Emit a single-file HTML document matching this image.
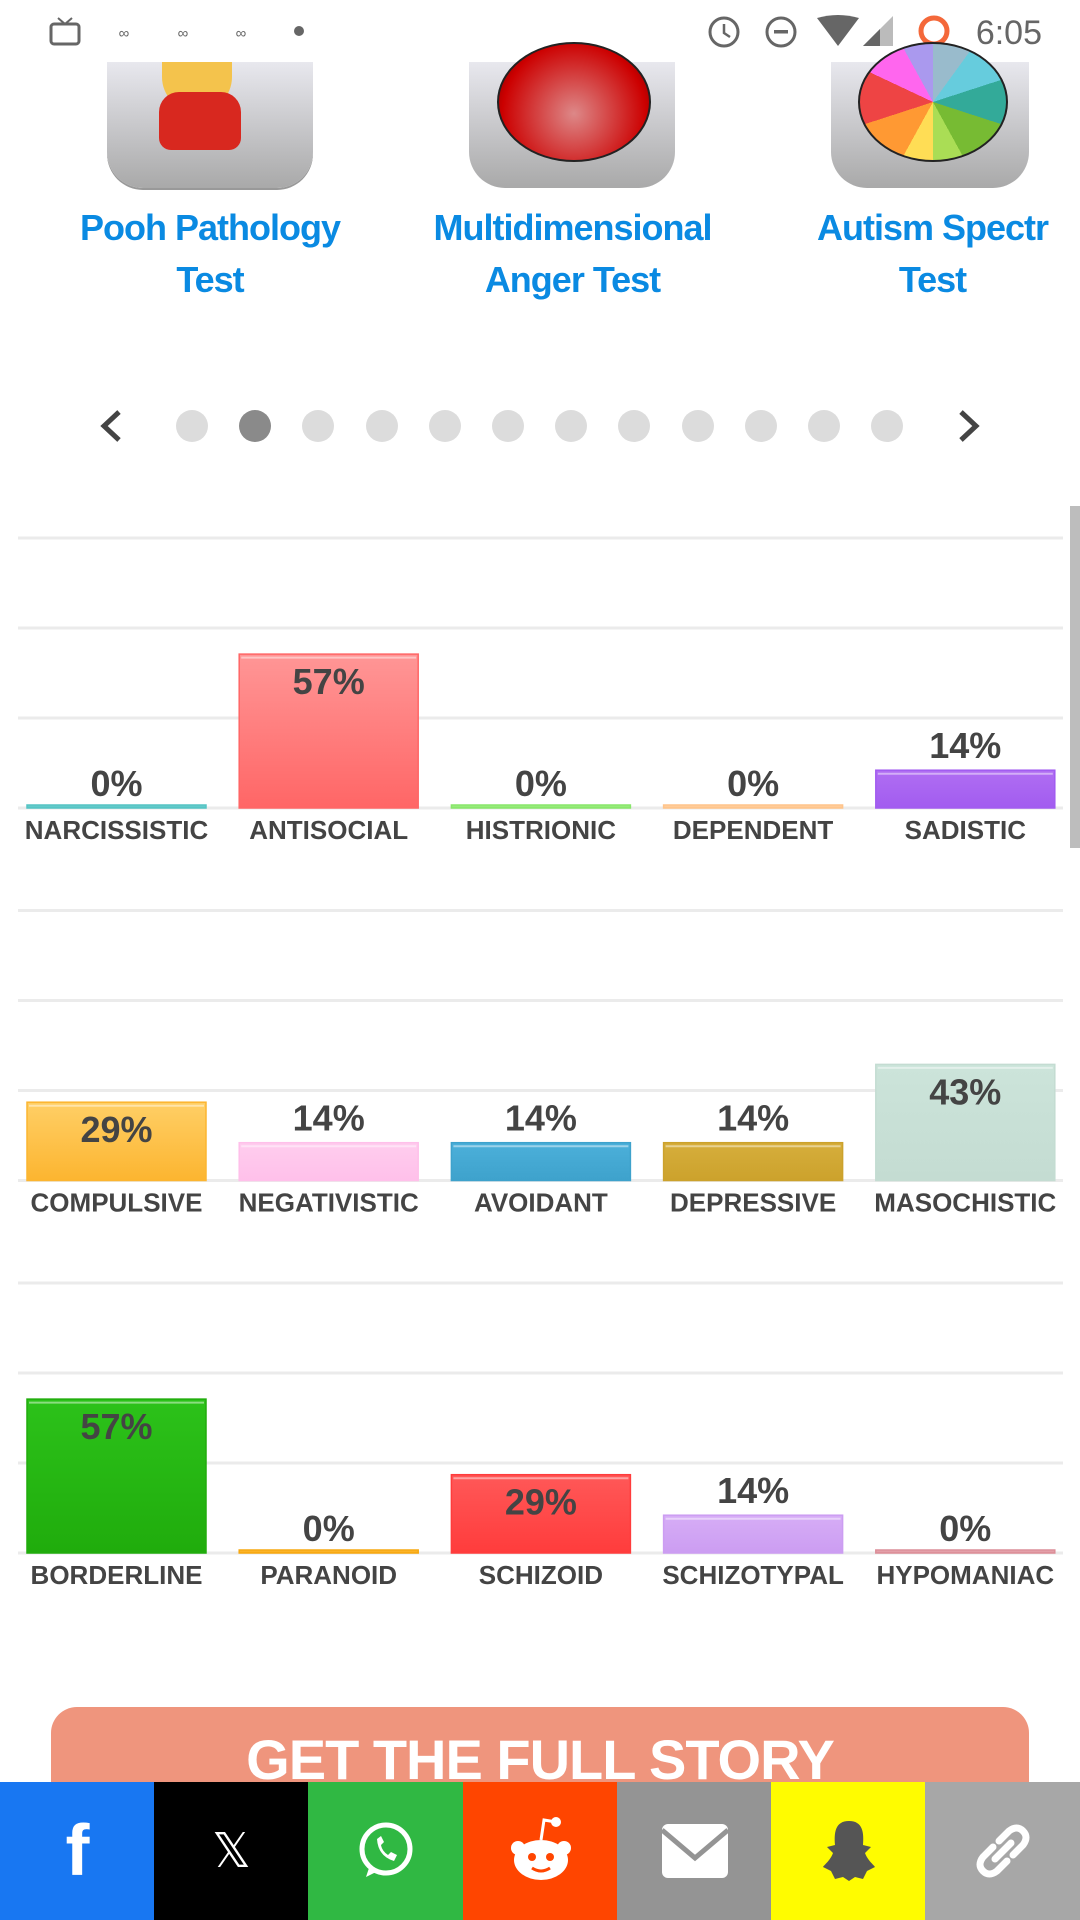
<!DOCTYPE html>
<html><head><meta charset="utf-8">
<style>
html,body{margin:0;padding:0;width:1080px;height:1920px;overflow:hidden;background:#fff;font-family:"Liberation Sans",sans-serif;}
.abs{position:absolute;}
.title{position:absolute;color:#0a8ae2;font-weight:bold;font-size:36px;text-align:center;line-height:52px;letter-spacing:-1px;}
.dot{position:absolute;width:32px;height:32px;border-radius:50%;background:#dcdcdc;top:410px;}
.share{position:absolute;top:1782px;height:138px;width:155px;display:flex;align-items:center;justify-content:center;}
</style></head>
<body>
<div class="abs" style="left:0;top:0;width:1080px;height:62px;background:#fff;">
  <svg width="1080" height="62">
    <rect x="51" y="24" width="28" height="20" rx="3" fill="none" stroke="#666" stroke-width="3"/>
    <path d="M58 18 L65 24 L72 18" stroke="#666" stroke-width="2" fill="none"/>
    <text x="124" y="38" font-size="15" fill="#666" text-anchor="middle">∞</text>
    <text x="183" y="38" font-size="15" fill="#666" text-anchor="middle">∞</text>
    <text x="241" y="38" font-size="15" fill="#666" text-anchor="middle">∞</text>
    <circle cx="299" cy="31" r="5" fill="#666"/>
    <circle cx="724" cy="32" r="14" fill="none" stroke="#666" stroke-width="3"/>
    <path d="M724 24 V33 L730 37" stroke="#666" stroke-width="2.5" fill="none"/>
    <circle cx="781" cy="32" r="14" fill="none" stroke="#666" stroke-width="3"/>
    <rect x="774" y="30" width="14" height="3.5" fill="#666"/>
    <path d="M817 18 Q838 12 859 18 L838 46 Z" fill="#666"/>
    <path d="M863 46 L893 16 V46 Z" fill="#bbb"/><path d="M863 46 L880 29 V46 Z" fill="#666"/>
    <circle cx="934" cy="31" r="13" fill="none" stroke="#f4683a" stroke-width="5"/>
    <text x="1042" y="44" font-size="34" fill="#666" text-anchor="end">6:05</text>
  </svg>
</div>
<div class="abs" style="left:0;top:62px;width:1080px;height:400px;">
  <div class="abs" style="left:107px;top:0;width:206px;height:126px;border-radius:0 0 36px 36px;background:linear-gradient(#e8e8ee,#a9a9a9);box-shadow:0 2px 0 #999;">
    <div class="abs" style="left:55px;top:0;width:70px;height:50px;background:#f4c34c;border-radius:0 0 35px 35px;"></div>
    <div class="abs" style="left:52px;top:30px;width:82px;height:58px;background:#d8281f;border-radius:20px 20px 12px 12px;"></div>
  </div>
  <div class="abs" style="left:469px;top:0;width:206px;height:126px;border-radius:0 0 36px 36px;background:linear-gradient(#e8e8ee,#a9a9a9);">
    <div class="abs" style="left:28px;top:-20px;width:150px;height:116px;border-radius:50%;background:radial-gradient(circle at 50% 60%,#d88,#c00 70%,#500);border:2px solid #222;"></div>
  </div>
  <div class="abs" style="left:831px;top:0;width:198px;height:126px;border-radius:0 0 36px 36px;background:linear-gradient(#e8e8ee,#a9a9a9);">
    <div class="abs" style="left:27px;top:-20px;width:146px;height:116px;border-radius:50%;background:conic-gradient(#9bc 0 10%,#6cd 10% 20%,#3a9 20% 30%,#7b3 30% 42%,#ad5 42% 50%,#fd5 50% 58%,#f93 58% 70%,#e44 70% 82%,#f6e 82% 92%,#a9e 92%);border:2px solid #222;"></div>
  </div>
  <div class="title" style="left:50px;top:140px;width:320px;">Pooh Pathology<br>Test</div>
  <div class="title" style="left:400px;top:140px;width:345px;">Multidimensional<br>Anger Test</div>
  <div class="title" style="left:770px;top:140px;width:325px;">Autism Spectr<br>Test</div>
</div>
<svg class="abs" style="left:0;top:400px" width="1080" height="55">
  <path d="M119 12 L104 26 L119 40" stroke="#444" stroke-width="5" fill="none"/>
  <path d="M961 12 L976 26 L961 40" stroke="#444" stroke-width="5" fill="none"/>
</svg>
<div id="dots"></div>
<div class="abs" style="left:1070px;top:506px;width:10px;height:342px;background:#bdbdbd;"></div>
<svg id="chart" class="abs" style="left:0;top:0" width="1080" height="1700"></svg>
<div class="abs" style="left:51px;top:1707px;width:978px;height:120px;background:#ef957d;border-radius:26px 26px 0 0;">
  <div style="color:#fff;font-weight:bold;font-size:56px;text-align:center;margin-top:20px;letter-spacing:-1px;">GET THE FULL STORY</div>
</div>
<div class="share" style="left:0;background:#1877f2;"><span style="color:#fff;font-weight:bold;font-size:72px;">f</span></div>
<div class="share" style="left:154px;background:#000;"><span style="color:#fff;font-size:48px;">𝕏</span></div>
<div class="share" style="left:308px;background:#30b843;"><svg width="60" height="60"><circle cx="30" cy="28" r="24" fill="none" stroke="#fff" stroke-width="5"/><path d="M10 56 L14 44 L22 50Z" fill="#fff"/><path d="M21 18 Q22 35 38 40 L41 34 L35 31 L32 34 Q26 30 25 24 L28 21 L25 15Z" fill="#fff"/></svg></div>
<div class="share" style="left:463px;background:#ff4500;"><svg width="70" height="70"><ellipse cx="35" cy="44" rx="27" ry="20" fill="#fff"/><circle cx="12" cy="32" r="7" fill="#fff"/><circle cx="58" cy="32" r="7" fill="#fff"/><circle cx="50" cy="6" r="5" fill="#fff"/><path d="M35 24 L38 4 L50 6" stroke="#fff" stroke-width="3" fill="none"/><circle cx="26" cy="41" r="4" fill="#ff4500"/><circle cx="44" cy="41" r="4" fill="#ff4500"/><path d="M26 52 Q35 58 44 52" stroke="#ff4500" stroke-width="3" fill="none"/></svg></div>
<div class="share" style="left:617px;background:#949494;"><svg width="66" height="54"><rect x="0" y="0" width="66" height="54" rx="6" fill="#fff"/><path d="M0 6 L33 34 L66 6" stroke="#949494" stroke-width="5" fill="none"/></svg></div>
<div class="share" style="left:771px;background:#fffc00;"><svg width="60" height="64"><path d="M30 2 C16 2 15 14 16 26 L8 28 L14 34 C11 42 5 46 4 48 L12 52 L16 60 L24 58 L30 62 L36 58 L44 60 L48 52 L56 48 C55 46 49 42 46 34 L52 28 L44 26 C45 14 44 2 30 2Z" fill="#555"/></svg></div>
<div class="share" style="left:925px;width:155px;background:#a7a7a7;"><svg width="60" height="60"><g fill="none" stroke="#fff" stroke-width="7" stroke-linecap="round"><path d="M26 20 L36 10 Q44 4 50 10 Q56 16 50 24 L40 34"/><path d="M34 40 L24 50 Q16 56 10 50 Q4 44 10 36 L20 26"/><path d="M22 38 L38 22"/></g></svg></div>

<script>
const rowCategories = [
  ["NARCISSISTIC","ANTISOCIAL","HISTRIONIC","DEPENDENT","SADISTIC"],
  ["COMPULSIVE","NEGATIVISTIC","AVOIDANT","DEPRESSIVE","MASOCHISTIC"],
  ["BORDERLINE","PARANOID","SCHIZOID","SCHIZOTYPAL","HYPOMANIAC"]
];
const rowValues = [
  [0,57,0,0,14],
  [29,14,14,14,43],
  [57,0,29,14,0]
];
const valueLabels = [
  ["0%","57%","0%","0%","14%"],
  ["29%","14%","14%","14%","43%"],
  ["57%","0%","29%","14%","0%"]
];
const barColors = [
  [["#6fd0d0","#55c4c4"],["#ff9696","#ff6666"],["#a4f08a","#88e66a"],["#ffd4a8","#ffc48a"],["#b06ef2","#a25cf0"]],
  [["#ffcf66","#fcb530"],["#ffcdee","#ffc0ea"],["#4cb0da","#3ea2cc"],["#d6ae3c","#cca22c"],["#cce4da","#c4dcd2"]],
  [["#2cc21a","#20ac0c"],["#ffbd40","#f7a810"],["#ff5858","#ff3c3c"],["#d6adf6","#cc9df2"],["#eab0b8","#dc8e98"]]
];
const gridTicks = [0,33.33,66.67,100];

const NS="http://www.w3.org/2000/svg";
const svg=document.getElementById('chart');
const plotLeft=18, plotRight=1063, rowBaselines=[808,1180.5,1553], plotH=270;
const barStart=27, slotW=212.2, barW=179;
function yScale(v,base){return base - v/100*plotH;}
function xSlot(i){return barStart+i*slotW;}
function mk(tag,attrs){const e=document.createElementNS(NS,tag);for(const k in attrs)e.setAttribute(k,attrs[k]);return e;}
const defs=mk('defs',{});svg.appendChild(defs);

rowCategories.forEach((cats,r)=>{
  const base=rowBaselines[r];
  gridTicks.forEach(t=>{
    const y=yScale(t,base);
    const g=mk('line',{x1:plotLeft,x2:plotRight,y1:y,y2:y,stroke:'#ebebeb','stroke-width':3});
    
    
    svg.appendChild(g);
  });
  cats.forEach((c,i)=>{
    const v=rowValues[r][i];
    const x=xSlot(i), w=barW;
    const yTop=yScale(v,base);
    const gid='g'+r+'_'+i;
    const lg=mk('linearGradient',{id:gid,x1:0,y1:0,x2:0,y2:1});
    lg.appendChild(mk('stop',{offset:0,'stop-color':barColors[r][i][0]}));
    lg.appendChild(mk('stop',{offset:1,'stop-color':barColors[r][i][1]}));
    defs.appendChild(lg);
    const h=Math.max(base-yTop,3);
    const bar=mk('rect',{x:x,y:base-h,width:w,height:h,fill:'url(#'+gid+')',stroke:barColors[r][i][1],'stroke-width':1.5});
    
    
    svg.appendChild(bar);
    if(h>8){svg.appendChild(mk('line',{x1:x+2,x2:x+w-2,y1:base-h+3.5,y2:base-h+3.5,stroke:'#fff','stroke-opacity':0.45,'stroke-width':2}));}
    const inside=v>=25;
    const ty=inside? yTop+40 : yTop-12;
    const lbl=mk('text',{x:x+w/2,y:ty,'text-anchor':'middle','font-size':36,'font-weight':'bold',fill:'#444','font-family':'Liberation Sans, sans-serif'});
    lbl.textContent=valueLabels[r][i];
    
    
    svg.appendChild(lbl);
    const cl=mk('text',{x:x+w/2,y:base+31,'text-anchor':'middle','font-size':26,'font-weight':'bold',fill:'#444','font-family':'Liberation Sans, sans-serif'});
    cl.textContent=c;
    
    
    svg.appendChild(cl);
  });
});

const dotsEl=document.getElementById('dots');
for(let i=0;i<12;i++){
  const d=document.createElement('div');
  d.className='dot';
  d.style.left=(176+i*63.2)+'px';
  if(i===1)d.style.background='#8a8a8a';
  
  
  dotsEl.appendChild(d);
}
</script>
</body></html>
